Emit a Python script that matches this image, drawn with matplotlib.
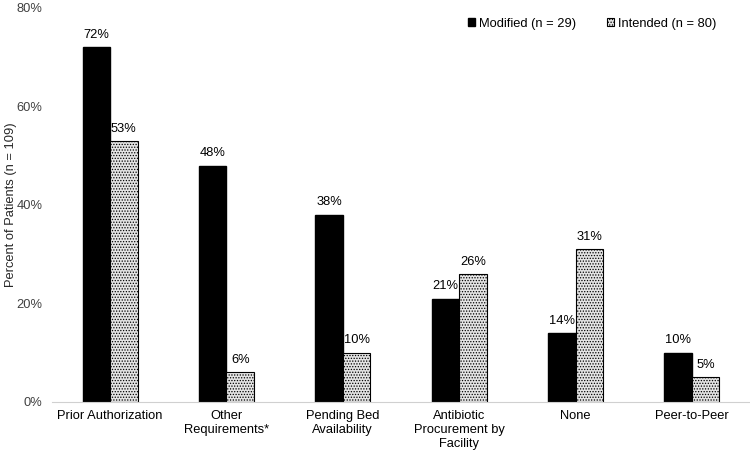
import matplotlib.pyplot as plt
import numpy as np

plt.rcParams['font.family'] = ['Liberation Sans', 'DejaVu Sans']
plt.rcParams['hatch.color'] = '#8c8c8c'
plt.rcParams['hatch.linewidth'] = 0.6

categories = ['Prior Authorization', 'Other\nRequirements*', 'Pending Bed\nAvailability',
              'Antibiotic\nProcurement by\nFacility', 'None', 'Peer-to-Peer']
modified = [72, 48, 38, 21, 14, 10]
intended = [53, 6, 10, 26, 31, 5]
series_labels = ['Modified (n = 29)', 'Intended (n = 80)']

fig = plt.figure(figsize=(7.5, 4.55), dpi=100)
ax = fig.add_axes([52 / 750, 53 / 455, 1 - 52 / 750, 1 - 53 / 455 - 8 / 455])

x = np.arange(len(categories))
w = 0.236
b1 = ax.bar(x - w / 2, modified, w, color='black', edgecolor='black', label=series_labels[0])
b2 = ax.bar(x + w / 2, intended, w, color='#e4e4e4', edgecolor='black', linewidth=0.8,
            hatch='......', label=series_labels[1])

for bars, vals in ((b1, modified), (b2, intended)):
    for bar, v in zip(bars, vals):
        ax.text(bar.get_x() + bar.get_width() / 2, v + 1.3, f'{v}%',
                ha='center', va='bottom', fontsize=9.3)

ax.set_ylim(0, 80)
ax.set_yticks(range(0, 81, 20))
ax.set_yticklabels([f'{t}%' for t in range(0, 81, 20)], fontsize=9.3, color='#404040')
ax.set_xlim(-0.5, 5.5)
ax.set_xticks(x)
ax.set_xticklabels(categories, fontsize=9.3)
ax.tick_params(length=0)
ax.tick_params(axis='y', pad=7)
ax.tick_params(axis='x', pad=6)
ax.set_ylabel('Percent of Patients (n = 109)', fontsize=9.3, color='#262626')
ax.yaxis.set_label_coords(-35 / 698, 0.5)

for s in ['top', 'right', 'left']:
    ax.spines[s].set_visible(False)
ax.spines['bottom'].set_color('#d0d0d0')
ax.set_axisbelow(True)

ax.legend(ncol=2, frameon=False, fontsize=9.3, loc='upper right',
          bbox_to_anchor=(0.968, 1.005), handlelength=0.55, handleheight=0.55,
          handletextpad=0.3, columnspacing=2.4)

fig.savefig('out.png', dpi=100)
